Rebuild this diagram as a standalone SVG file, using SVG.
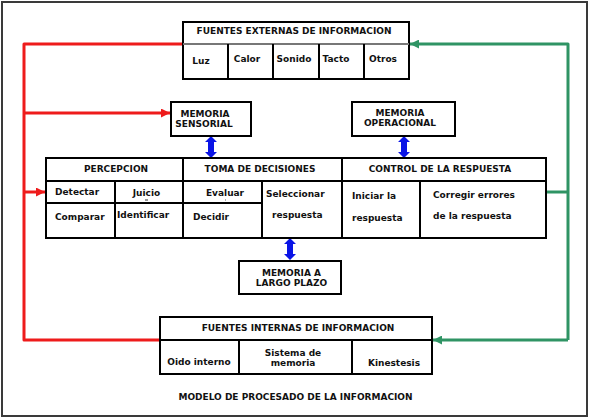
<svg xmlns="http://www.w3.org/2000/svg" width="590" height="420" viewBox="0 0 590 420">
<style>
.box{fill:#fff;stroke:#000;stroke-width:2}
.ln{stroke:#000;stroke-width:2;fill:none}
.t{font-family:"DejaVu Sans",Verdana,sans-serif;font-weight:bold;font-size:9px;fill:#111}
.c{text-anchor:middle}
.red{stroke:#ee1b1b;stroke-width:3;fill:none;stroke-linejoin:round}
.grn{stroke:#2f9464;stroke-width:3;fill:none;stroke-linejoin:round}
</style>
<defs>
<path id="dbl" d="M0,0 l6,6 h-3 v10 h3 l-6,6 l-6,-6 h3 v-10 h-3 z" fill="#0a14e6"/>
<marker id="ar" viewBox="0 0 10 10" refX="10" refY="5" markerWidth="3" markerHeight="3" orient="auto" markerUnits="strokeWidth"><path d="M0,0 L10,5 L0,10 z" fill="#ee1b1b"/></marker>
<marker id="ag" viewBox="0 0 10 10" refX="10" refY="5" markerWidth="3" markerHeight="3" orient="auto" markerUnits="strokeWidth"><path d="M0,0 L10,5 L0,10 z" fill="#2f9464"/></marker>
</defs>
<rect x="2" y="2" width="585" height="414" fill="#fff" stroke="#3a3a3a" stroke-width="2"/>

<g id="connectors">
<path class="red" d="M182,44 H24 V340 H160"/>
<path class="red" d="M24,113 H170" marker-end="url(#ar)"/>
<path class="red" d="M24,192 H45" marker-end="url(#ar)"/>
<path class="grn" d="M546,192 H568"/>
<path class="grn" d="M568,340 V44 H410" marker-end="url(#ag)"/>
<path class="grn" d="M568,340 H433" marker-end="url(#ag)"/>
<use href="#dbl" x="211" y="136"/>
<use href="#dbl" x="404" y="136"/>
<use href="#dbl" x="290" y="238"/>
</g>

<g id="fuentes-externas">
<rect class="box" x="183" y="22" width="226" height="57"/>
<line x1="183" y1="44" x2="409" y2="44" stroke="#777" stroke-width="2"/>
<path class="ln" d="M228,44 V79 M273,44 V79 M319,44 V79 M364,44 V79"/>
<text class="t c" x="294" y="34">FUENTES EXTERNAS DE INFORMACION</text>
<text class="t c" x="201" y="64">Luz</text>
<text class="t c" x="247" y="62">Calor</text>
<text class="t c" x="294" y="62">Sonido</text>
<text class="t c" x="336" y="62">Tacto</text>
<text class="t c" x="383" y="62">Otros</text>
</g>

<g id="memoria-sensorial">
<rect class="box" x="171" y="102" width="80" height="34"/>
<text class="t c" x="205" y="116.5">MEMORIA</text>
<text class="t c" x="204" y="126.5">SENSORIAL</text>
</g>

<g id="memoria-operacional">
<rect class="box" x="352" y="102" width="103" height="34"/>
<text class="t c" x="400" y="116">MEMORIA</text>
<text class="t c" x="400" y="126">OPERACIONAL</text>
</g>

<g id="procesamiento">
<rect class="box" x="46" y="158" width="500" height="80"/>
<path class="ln" d="M46,181 H546 M183,158 V238 M342,158 V238 M115,181 V238 M46,203 H262 M262,181 V238 M420,181 V238"/>
<text class="t c" x="116" y="172">PERCEPCION</text>
<text class="t c" x="260" y="172">TOMA DE DECISIONES</text>
<text class="t c" x="440" y="172">CONTROL DE LA RESPUESTA</text>
<text class="t" x="55" y="195">Detectar</text>
<text class="t c" x="146.5" y="196">Juicio</text>
<rect x="145" y="199.5" width="3" height="1" fill="#333"/>
<text class="t" x="55" y="219.5">Comparar</text>
<text class="t" x="117" y="218">Identificar</text>
<text class="t c" x="225" y="196">Evaluar</text>
<rect x="225" y="199.5" width="1" height="1" fill="#666"/>
<text class="t" x="193" y="220">Decidir</text>
<text class="t" x="266" y="197">Seleccionar</text>
<text class="t" x="272" y="218">respuesta</text>
<text class="t" x="352" y="199">Iniciar la</text>
<text class="t" x="352" y="221">respuesta</text>
<text class="t" x="433" y="198">Corregir errores</text>
<text class="t" x="433" y="219">de la respuesta</text>
</g>

<g id="memoria-largo-plazo">
<rect class="box" x="239" y="261" width="102" height="33"/>
<text class="t c" x="291.5" y="275.5">MEMORIA A</text>
<text class="t c" x="291.5" y="285.5">LARGO PLAZO</text>
</g>

<g id="fuentes-internas">
<rect class="box" x="160" y="317" width="272" height="57"/>
<path class="ln" d="M160,340 H432 M239,340 V374 M352,340 V374"/>
<text class="t c" x="298" y="330.5">FUENTES INTERNAS DE INFORMACION</text>
<text class="t c" x="199" y="364.5">Oido interno</text>
<text class="t c" x="293" y="355.5">Sistema de</text>
<text class="t c" x="293" y="365.5">memoria</text>
<text class="t c" x="394" y="365.5">Kinestesis</text>
</g>

<text class="t c" x="295.5" y="400">MODELO DE PROCESADO DE LA INFORMACION</text>
</svg>
